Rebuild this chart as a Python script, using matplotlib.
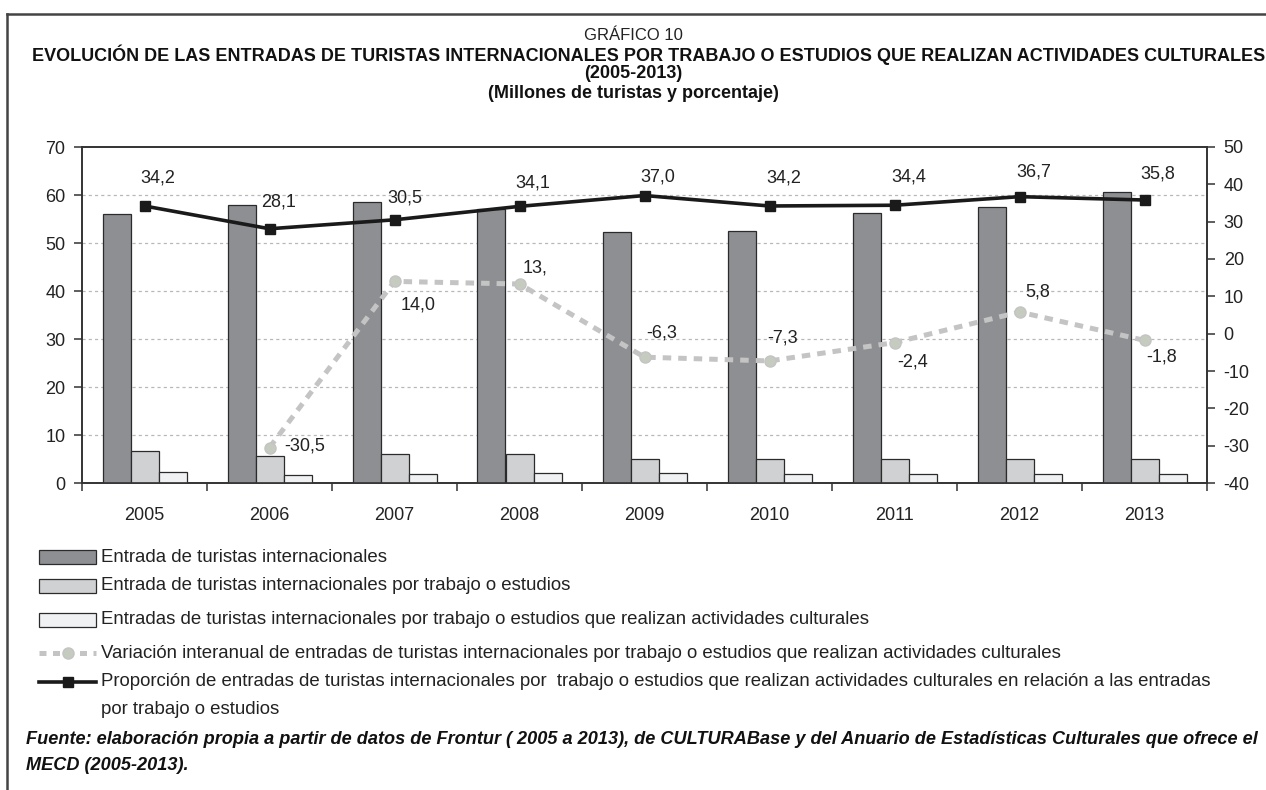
import numpy as np
import matplotlib
matplotlib.use("Agg")
import matplotlib.pyplot as plt
from matplotlib.patches import Rectangle
from matplotlib.lines import Line2D

plt.rcParams['font.family'] = ['Liberation Sans', 'DejaVu Sans']

# ---------------- data ----------------
years = ["2005", "2006", "2007", "2008", "2009", "2010", "2011", "2012", "2013"]
entradas_total = [56.0, 57.9, 58.6, 57.1, 52.2, 52.6, 56.3, 57.4, 60.7]
entradas_trabajo = [6.6, 5.6, 6.0, 6.0, 5.1, 5.1, 5.1, 5.1, 5.1]
entradas_cultura = [2.35, 1.75, 1.8, 2.15, 2.0, 1.8, 1.8, 1.8, 1.8]
variacion = [np.nan, -30.5, 14.0, 13.3, -6.3, -7.3, -2.4, 5.8, -1.8]
variacion_labels = ["", "-30,5", "14,0", "13,", "-6,3", "-7,3", "-2,4", "5,8", "-1,8"]
proporcion = [34.2, 28.1, 30.5, 34.1, 37.0, 34.2, 34.4, 36.7, 35.8]
left_ticks = [0, 10, 20, 30, 40, 50, 60, 70]
right_ticks = [-40, -30, -20, -10, 0, 10, 20, 30, 40, 50]

legend_labels = [
    "Entrada de turistas internacionales",
    "Entrada de turistas internacionales por trabajo o estudios",
    "Entradas de turistas internacionales por trabajo o estudios que realizan actividades culturales",
    "Variación interanual de entradas de turistas internacionales por trabajo o estudios que realizan actividades culturales",
    "Proporción de entradas de turistas internacionales por  trabajo o estudios que realizan actividades culturales en relación a las entradas\npor trabajo o estudios",
]

# label offsets in pixels (dx, dy)
prop_offsets = [(13, 28), (9, 27), (10, 22), (13, 23), (13, 19), (14, 28), (14, 28), (14, 25), (13, 26)]
var_offsets = [(0, 0), (35, 2), (24, -24), (16, 16), (17, 24), (13, 23), (18, -19), (18, 20), (17, -17)]

# ---------------- styles ----------------
c_dark = "#8e8f93"
c_mid = "#d0d1d3"
c_light = "#f0f1f3"
c_edge = "#2b2b2b"
c_var = "#c4c4c4"
c_var_mk = "#c6cbbf"
c_prop = "#1a1a1a"
FS = 13
FS_LEG = 13.4

W, H = 1266, 790
fig = plt.figure(figsize=(W / 100, H / 100), dpi=100)

def fx(px):
    return px / W

def fy(py):
    return 1 - py / H

ax = fig.add_axes([fx(82), fy(483), fx(1207) - fx(82), fy(147) - fy(483)])
ax2 = ax.twinx()

x = np.arange(len(years))
bw = 0.224
ax.bar(x - bw, entradas_total, bw, color=c_dark, edgecolor=c_edge, linewidth=0.9, zorder=3)
ax.bar(x, entradas_trabajo, bw, color=c_mid, edgecolor=c_edge, linewidth=0.9, zorder=3)
ax.bar(x + bw, entradas_cultura, bw, color=c_light, edgecolor=c_edge, linewidth=0.9, zorder=3)

ax.set_xlim(-0.5, len(years) - 0.5)
ax.set_ylim(0, 70)
ax.set_yticks(left_ticks)
ax.set_yticklabels([str(t) for t in left_ticks], fontsize=FS, color="#222222")
ax.set_xticks(x)
ax.set_xticklabels(years, fontsize=FS, color="#222222")
ax.set_xticks(np.arange(len(years) + 1) - 0.5, minor=True)
ax.tick_params(axis="x", which="major", length=0, pad=17)
ax.tick_params(axis="x", which="minor", length=6, width=1.1, color="#333333", direction="out")
ax.tick_params(axis="y", length=6, width=1.1, color="#333333", direction="out", pad=6)
for g in left_ticks[1:-1]:
    ax.axhline(g, color="#b8b8b8", linewidth=0.9, linestyle=(0, (2.5, 2.5)), zorder=1)

for sp in ax.spines.values():
    sp.set_color("#333333")
    sp.set_linewidth(1.2)
for sp in ax2.spines.values():
    sp.set_color("#333333")
    sp.set_linewidth(1.2)

ax2.set_ylim(-40, 50)
ax2.set_yticks(right_ticks)
ax2.set_yticklabels([str(t) for t in right_ticks], fontsize=FS, color="#222222")
ax2.tick_params(axis="y", length=6, width=1.1, color="#333333", direction="out", pad=6)

ax2.plot(x, variacion, color=c_var, linewidth=3.6, linestyle=(0, (1.7, 1.4)),
         marker="o", markersize=8, markerfacecolor=c_var_mk, markeredgecolor=c_var, zorder=4)
ax2.plot(x, proporcion, color=c_prop, linewidth=2.6, marker="s", markersize=7,
         markerfacecolor=c_prop, markeredgecolor=c_prop, zorder=5)

for i, v in enumerate(proporcion):
    ax2.annotate(f"{v:.1f}".replace(".", ","), (x[i], v), xytext=prop_offsets[i],
                 textcoords="offset pixels", ha="center", va="center", fontsize=FS, color="#222222")
for i, v in enumerate(variacion):
    if np.isnan(v):
        continue
    ax2.annotate(variacion_labels[i], (x[i], v), xytext=var_offsets[i],
                 textcoords="offset pixels", ha="center", va="center", fontsize=FS, color="#222222")

# ---------------- titles ----------------
fig.text(0.5, fy(36), "GRÁFICO 10", ha="center", va="center", fontsize=12, color="#222222")
fig.text(fx(649), fy(55), "EVOLUCIÓN DE LAS ENTRADAS DE TURISTAS INTERNACIONALES POR TRABAJO O ESTUDIOS QUE REALIZAN ACTIVIDADES CULTURALES",
         ha="center", va="center", fontsize=13, fontweight="bold", color="#111111")
fig.text(0.5, fy(74), "(2005-2013)", ha="center", va="center", fontsize=13, fontweight="bold", color="#111111")
fig.text(0.5, fy(93), "(Millones de turistas y porcentaje)", ha="center", va="center", fontsize=13,
         fontweight="bold", color="#111111")

# ---------------- legend (manual) ----------------
row_y = [557, 586, 620, 653, 682]
fills = [c_dark, c_mid, c_light]
for i in range(3):
    fig.patches.append(Rectangle((fx(39), fy(row_y[i] + 7)), fx(96) - fx(39), fy(row_y[i] - 7) - fy(row_y[i] + 7),
                                 transform=fig.transFigure, facecolor=fills[i], edgecolor=c_edge, linewidth=0.9))
fig.lines.append(Line2D([fx(39), fx(96)], [fy(row_y[3])] * 2, transform=fig.transFigure, color=c_var,
                        linewidth=3.6, linestyle=(0, (1.4, 1.3))))
fig.lines.append(Line2D([fx(67.5)], [fy(row_y[3])], transform=fig.transFigure, marker="o", markersize=8,
                        markerfacecolor=c_var_mk, markeredgecolor=c_var, linestyle="none"))
fig.lines.append(Line2D([fx(39), fx(96)], [fy(row_y[4])] * 2, transform=fig.transFigure, color=c_prop,
                        linewidth=2.6))
fig.lines.append(Line2D([fx(67.5)], [fy(row_y[4])], transform=fig.transFigure, marker="s", markersize=7,
                        color=c_prop, linestyle="none"))
for i, lab in enumerate(legend_labels):
    lines = lab.split("\n")
    for j, ln in enumerate(lines):
        fig.text(fx(101), fy(row_y[i] + 28 * j), ln, ha="left", va="center",
                 fontsize=FS_LEG, color="#222222")

fig.text(fx(26), fy(740),
         "Fuente: elaboración propia a partir de datos de Frontur ( 2005 a 2013), de CULTURABase y del Anuario de Estadísticas Culturales que ofrece el",
         ha="left", va="center", fontsize=13.1, fontweight="bold", fontstyle="italic", color="#111111")
fig.text(fx(26), fy(765), "MECD (2005-2013).", ha="left", va="center", fontsize=13.1,
         fontweight="bold", fontstyle="italic", color="#111111")

# frame
fig.lines.append(Line2D([fx(7), 1.0], [fy(14)] * 2, transform=fig.transFigure, color="#444444", linewidth=1.8))
fig.lines.append(Line2D([fx(7), fx(7)], [fy(14), 0.0], transform=fig.transFigure, color="#444444", linewidth=1.8))

fig.savefig("out.png", dpi=100)
